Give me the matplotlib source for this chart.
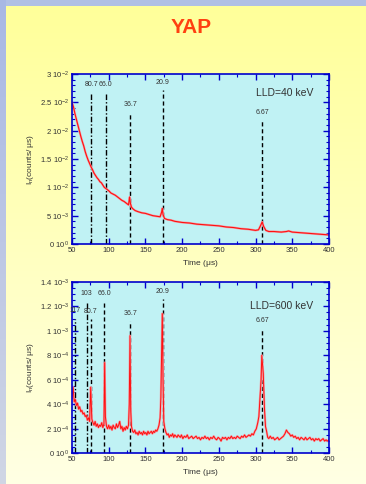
import matplotlib
matplotlib.use('Agg')
import matplotlib.pyplot as plt
import numpy as np

plt.rcParams['font.family'] = ['Liberation Sans', 'DejaVu Sans']
plt.rcParams['mathtext.default'] = 'regular'

# ---- data ----
# LLD = 40 keV, I_n in units of 1e-3
t_top = [50, 52, 54, 56, 58, 60, 62, 64, 66, 68, 70, 72, 74, 76, 78, 80, 82, 84, 86, 88,
         90, 92, 94, 96, 98, 100, 103, 106, 109, 112, 115, 118, 121, 124, 127, 128.5, 129.5,
         131, 133, 136, 140, 145, 150, 155, 160, 165, 170, 172, 173, 174, 176, 180, 185, 190,
         195, 200, 210, 220, 230, 240, 250, 260, 270, 280, 290, 300, 304, 307, 309, 311, 314,
         318, 325, 335, 342, 345, 350, 360, 370, 380, 390, 400]
i_top = [25.0, 24.2, 23.0, 22.0, 21.0, 20.0, 19.0, 18.1, 17.3, 16.3, 15.5, 14.8, 14.2, 13.6,
         13.1, 12.5, 12.1, 11.7, 11.4, 11.0, 10.8, 10.4, 10.0, 9.8, 9.6, 9.4, 9.0, 8.8, 8.6,
         8.3, 8.0, 7.7, 7.5, 7.2, 6.9, 8.3, 7.2, 6.5, 6.2, 5.9, 5.7, 5.5, 5.4, 5.2, 5.0, 4.9,
         4.8, 5.6, 6.3, 5.2, 4.5, 4.3, 4.2, 4.0, 3.9, 3.8, 3.7, 3.5, 3.4, 3.3, 3.2, 3.0, 2.9,
         2.7, 2.6, 2.4, 2.5, 3.3, 3.9, 3.1, 2.4, 2.2, 2.2, 2.1, 2.2, 2.3, 2.1, 2.0, 1.9, 1.8,
         1.7, 1.6]

# LLD = 600 keV, I_n in units of 1e-4
t_bot = [50, 51.5, 53, 54.5, 56, 57.5, 59, 60.5, 62, 63.5, 65, 66.5, 68, 69.5, 71, 72.5, 74,
         75.5, 77, 78.5, 80, 81.5, 83, 84.5, 86, 87.5, 89, 90.5, 92, 93.5, 94.5, 95.5, 97, 98.5,
         100, 101.5, 103, 104.5, 106, 107.5, 109, 110.5, 112, 113.5, 115, 116.5, 118, 119.5,
         121, 122.5, 124, 125.5, 127, 128, 129, 130, 131, 132.5, 134, 135.5, 137, 138.5, 140,
         141.5, 143, 144.5, 146, 147.5, 149, 150.5, 152, 153.5, 155, 156.5, 158, 159.5, 161,
         162.5, 164, 165.5, 167, 168.5, 170, 171, 172, 173, 174, 175, 176.5, 178, 179.5, 181,
         182.5, 184, 185.5, 187, 188.5, 190, 191.5, 193, 194.5, 196, 197.5, 199, 201, 203, 205,
         207, 209, 211, 213, 215, 217, 219, 221, 223, 225, 227, 229, 231, 233, 235, 237, 239,
         241, 243, 245, 247, 249, 251, 253, 255, 257, 259, 261, 263, 265, 267, 269, 271, 273,
         275, 277, 279, 281, 283, 285, 287, 289, 291, 293, 295, 297, 299, 301, 303, 304.5, 306,
         307.5, 308.5, 309.5, 310.5, 312, 313.5, 315, 316.5, 318, 320, 322, 324, 326, 328, 330,
         332, 334, 336, 338, 340, 342, 344, 346, 348, 350, 352, 354, 356, 358, 360, 362, 364,
         366, 368, 370, 372, 374, 376, 378, 380, 382, 384, 386, 388, 390, 392, 394, 396, 398, 400]
i_bot = [4.5, 5.4, 4.2, 4.4, 3.9, 4.1, 3.6, 3.8, 3.4, 3.5, 3.2, 3.3, 3.0, 3.1, 2.7, 2.9, 2.6,
         5.4, 2.8, 2.5, 2.3, 2.6, 2.2, 2.4, 2.1, 2.3, 2.2, 2.5, 2.1, 2.4, 7.4, 3.0, 2.2, 2.0,
         2.3, 2.0, 2.2, 1.9, 2.3, 2.1, 2.0, 2.4, 2.1, 2.3, 2.6, 2.0, 2.2, 1.8, 2.1, 1.9, 2.2,
         2.0, 2.3, 4.0, 9.6, 3.5, 2.2, 1.8, 1.7, 1.9, 1.6, 1.7, 1.5, 1.8, 1.6, 1.7, 1.5, 1.8,
         1.6, 1.7, 1.5, 1.8, 1.6, 1.7, 1.8, 1.6, 1.8, 1.7, 1.9, 1.8, 2.0, 2.3, 2.9, 4.5, 8.0,
         11.4, 6.0, 2.6, 2.0, 1.7, 1.5, 1.6, 1.3, 1.5, 1.4, 1.6, 1.3, 1.5, 1.4, 1.3, 1.5, 1.4,
         1.3, 1.5, 1.2, 1.4, 1.3, 1.5, 1.2, 1.3, 1.4, 1.2, 1.3, 1.4, 1.2, 1.3, 1.1, 1.3, 1.2,
         1.4, 1.2, 1.3, 1.1, 1.3, 1.2, 1.4, 1.2, 1.1, 1.3, 1.2, 1.0, 1.3, 1.2, 1.3, 1.1, 1.3,
         1.2, 1.4, 1.2, 1.3, 1.2, 1.4, 1.3, 1.2, 1.4, 1.3, 1.5, 1.3, 1.4, 1.5, 1.4, 1.6, 1.5,
         1.8, 2.0, 2.5, 3.0, 4.5, 6.0, 8.0, 7.2, 6.5, 3.8, 2.2, 1.8, 1.3, 1.2, 1.4, 1.2, 1.3,
         1.1, 1.2, 1.3, 1.1, 1.2, 1.3, 1.4, 1.6, 1.9, 1.7, 1.6, 1.4, 1.5, 1.3, 1.4, 1.2, 1.3,
         1.1, 1.3, 1.2, 1.1, 1.3, 1.1, 1.2, 1.3, 1.1, 1.2, 1.0, 1.2, 1.1, 1.2, 1.0, 1.1, 1.2,
         1.0, 1.1, 1.0, 1.1]

# marker lines: position, top, label
top_mark_t = [76, 95.8, 129.4, 173.5, 309]
top_mark_h = [0.0268, 0.0268, 0.0232, 0.0272, 0.0219]
top_mark_lab = ['80.7', '66.0', '36.7', '20.9', '6.67']

bot_mark_t = [54.1, 70, 75.5, 94, 129.4, 173.5, 309]
bot_mark_h = [1.10e-3, 1.243e-3, 1.093e-3, 1.243e-3, 1.079e-3, 1.259e-3, 1.02e-3]
bot_mark_lab = ['117', '103', '80.7', '66.0', '36.7', '20.9', '6.67']

top_yticks = [0, 0.005, 0.01, 0.015, 0.02, 0.025, 0.03]
top_ylabels = [r'$0\ 10^{0}$', r'$5\ 10^{-3}$', r'$1\ 10^{-2}$', r'$1.5\ 10^{-2}$',
               r'$2\ 10^{-2}$', r'$2.5\ 10^{-2}$', r'$3\ 10^{-2}$']
bot_yticks = [0, 2e-4, 4e-4, 6e-4, 8e-4, 1e-3, 1.2e-3, 1.4e-3]
bot_ylabels = [r'$0\ 10^{0}$', r'$2\ 10^{-4}$', r'$4\ 10^{-4}$', r'$6\ 10^{-4}$',
               r'$8\ 10^{-4}$', r'$1\ 10^{-3}$', r'$1.2\ 10^{-3}$', r'$1.4\ 10^{-3}$']
xticks = [50, 100, 150, 200, 250, 300, 350, 400]

fig = plt.figure(figsize=(3.66, 4.84), dpi=100)

# slide background: yellow gradient with blue edge strips
bg = fig.add_axes([0, 0, 1, 1])
H, W = 484, 366
img = np.zeros((H, W, 3))
frac = np.linspace(0, 1, H)[:, None]
img[:, :, 0] = 1.0
img[:, :, 1] = 1.0
img[:, :, 2] = (153 + (228 - 153) * frac) / 255
img[:6, :, :] = [176/255, 192/255, 228/255]
img[:, :6, 0] = (168 + 40 * frac[:, 0:1]) / 255
img[:, :6, 1] = (184 + 30 * frac[:, 0:1]) / 255
img[:, :6, 2] = 228 / 255
bg.imshow(img, aspect='auto', extent=[0, 1, 0, 1])
bg.set_axis_off()

fig.text(0.522, 0.944, 'YAP', color='#FF4010', fontsize=15, fontweight='bold',
         ha='center', va='center')

blue = '#0000CC'


def style_axes(ax, yticks, ylabels, ymax, minor_step):
    ax.set_facecolor('#C0F2F4')
    ax.set_xlim(50, 400)
    ax.set_ylim(0, ymax)
    ax.set_xticks(xticks)
    ax.set_xticks(np.arange(50, 401, 25), minor=True)
    ax.set_yticks(yticks)
    ax.set_yticklabels(ylabels)
    ax.set_yticks(np.arange(0, ymax + minor_step / 2, minor_step), minor=True)
    for s in ax.spines.values():
        s.set_color(blue)
        s.set_linewidth(1.2)
    ax.tick_params(which='both', direction='in', color=blue, top=True, right=True,
                   labelsize=5.5, labelcolor='#333333', pad=2)
    ax.tick_params(which='major', length=4, width=1)
    ax.tick_params(which='minor', length=2, width=0.8)
    ax.set_xlabel(r'Time ($\mu$s)', fontsize=6, color='#333333', labelpad=3)
    ax.set_ylabel(r'I$_n$(counts/ $\mu$s)', fontsize=6, color='#333333', labelpad=3)


def draw_marks(ax, ts, hs, labs, ymax):
    styles = [(0, (4, 1.5, 1, 1.5)), (0, (4, 1.5, 1, 1.5)), (0, (3, 2)), (0, (3, 2)),
              (0, (3, 2)), (0, (3, 2)), (0, (3, 2))]
    for k, (t, h, lab) in enumerate(zip(ts, hs, labs)):
        ax.plot([t, t], [0, h], color='black', lw=1, linestyle=styles[k % len(styles)])
        ax.text(t, h + ymax * 0.025, lab, fontsize=5, color='#333333', ha='center', va='bottom')


ax1 = fig.add_axes([0.1967, 0.4959, 0.7022, 0.3512])
style_axes(ax1, top_yticks, top_ylabels, 0.03, 0.001)
draw_marks(ax1, top_mark_t, top_mark_h, top_mark_lab, 0.03)
y1 = np.array(i_top) * 1e-3
ax1.plot(t_top, y1, color='#F0A0A8', lw=1.6)
ax1.plot(t_top, y1, color='#FF1010', lw=0.8)
ax1.text(0.938, 0.888, 'LLD=40 keV', transform=ax1.transAxes, fontsize=7.5,
         color='#333333', ha='right', va='center')

ax2 = fig.add_axes([0.1967, 0.0634, 0.7022, 0.3545])
style_axes(ax2, bot_yticks, bot_ylabels, 1.4e-3, 5e-5)
draw_marks(ax2, bot_mark_t, bot_mark_h, bot_mark_lab, 1.4e-3)
y2 = np.array(i_bot) * 1e-4
ax2.plot(t_bot, y2, color='#F0A0A8', lw=1.6)
ax2.plot(t_bot, y2, color='#FF1010', lw=0.7)
ax2.text(0.938, 0.858, 'LLD=600 keV', transform=ax2.transAxes, fontsize=7.5,
         color='#333333', ha='right', va='center')

fig.savefig('out.png', dpi=100)
